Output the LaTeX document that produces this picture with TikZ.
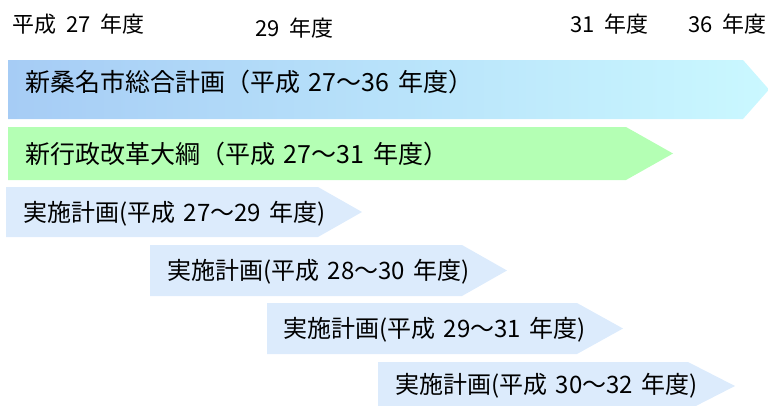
\documentclass[tikz,border=0pt]{standalone}
\usepackage{fontspec}
\setmainfont{Noto Sans CJK JP}
\definecolor{bigL}{RGB}{166,204,245}
\definecolor{bigR}{RGB}{202,248,255}
\definecolor{grn}{RGB}{180,255,180}
\definecolor{planc}{RGB}{220,235,252}
\newcommand{\gap}{\hspace{0.35em}}
\newcommand{\ygap}{\hspace{0.45em}}
\newcommand{\pentbar}[6]{% style, left, top, bottom, bodyend, tip
  \path[#1] (#2,#3) -- (#5,#3) -- (#6,{(#3+#4)/2}) -- (#5,#4) -- (#2,#4) -- cycle;}
\begin{document}
\begin{tikzpicture}[x=1pt,y=-1pt,
  bartext/.style={anchor=west,inner sep=0pt,font=\fontsize{25}{29}\selectfont},
  plantext/.style={anchor=west,inner sep=0pt,font=\fontsize{24}{28}\selectfont},
  yeartext/.style={anchor=west,inner sep=0pt,font=\fontsize{22}{26}\selectfont},
  bigbar/.style={left color=bigL,right color=bigR},
  grnbar/.style={fill=grn},
  planbar/.style={fill=planc}]
\useasboundingbox (0,0) rectangle (768,405);
\clip (0,0) rectangle (768,405);

% year headers
\node[yeartext] (y27) at (12,24) {平成\ygap 27\ygap 年度};
\node[yeartext] (y29) at (255,28) {29\ygap 年度};
\node[yeartext] (y31) at (570,24) {31\ygap 年度};
\node[yeartext] (y36) at (688,24) {36\ygap 年度};

% bars
\pentbar{bigbar}{8}{60}{119}{743}{769}
\pentbar{grnbar}{8}{127}{180}{626}{673}
\pentbar{planbar}{6}{187}{237}{318}{362}
\pentbar{planbar}{150}{245}{296}{462}{507}
\pentbar{planbar}{267}{303}{354}{577}{623}
\pentbar{planbar}{378}{362}{410}{688}{735}

% labels
\node[bartext] (sogo) at (25,82) {新桑名市総合計画（平成\gap 27〜36\gap 年度）};
\node[bartext] (gyokaku) at (25,154) {新行政改革大綱（平成\gap 27〜31\gap 年度）};
\node[plantext] (p1) at (23,214) {実施計画(平成\gap 27〜29\gap 年度)};
\node[plantext] (p2) at (167,272) {実施計画(平成\gap 28〜30\gap 年度)};
\node[plantext] (p3) at (283,330) {実施計画(平成\gap 29〜31\gap 年度)};
\node[plantext] (p4) at (395,386) {実施計画(平成\gap 30〜32\gap 年度)};
\end{tikzpicture}
\end{document}
